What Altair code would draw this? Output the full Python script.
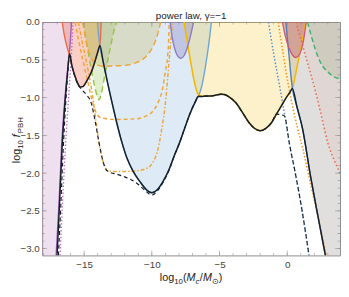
import altair as alt
import pandas as pd

XMIN, XMAX = -18.1, 3.9
YMIN, YMAX = -3.09, 0.0

# ---------------- curves (log10 Mc, log10 f) ----------------
purple_x = [-17.07, -16.87, -16.67, -16.46, -16.26, -16.1, -16.0, -15.93]
purple_y = [-3.09, -2.45, -1.66, -1.10, -0.70, -0.42, -0.2, 0.0]

magenta_x = [-16.78, -16.6, -16.4, -16.15, -15.95, -15.82]
magenta_y = [-3.09, -2.4, -1.7, -1.0, -0.45, 0.0]

red_x = [-16.62, -16.5, -16.35, -16.2, -16.08, -15.9, -15.67, -15.5, -15.3, -15.1,
         -14.9, -14.7, -14.46, -14.25, -14.1, -13.95, -13.84, -13.78, -13.74]
red_y = [0.0, -0.14, -0.27, -0.37, -0.44, -0.58, -0.72, -0.8, -0.86, -0.855,
         -0.81, -0.745, -0.66, -0.55, -0.46, -0.37, -0.3, -0.16, 0.0]

greenv_x = [-15.09, -14.8, -14.5, -14.2, -14.0, -13.89, -13.75, -13.45, -13.1, -12.8, -12.6]
greenv_y = [0.0, -0.3, -0.6, -0.87, -1.0, -1.03, -0.96, -0.68, -0.37, -0.12, 0.0]

blue_x = [-14.02, -13.95, -13.84, -13.6, -13.3, -13.0, -12.57, -12.2, -11.84, -11.4,
          -10.89, -10.4, -10.0, -9.6, -9.2, -8.72, -8.3, -8.0, -7.6, -7.2,
          -6.8, -6.55, -6.3, -6.05, -5.8, -5.6]
blue_y = [0.0, -0.15, -0.32, -0.52, -0.78, -1.02, -1.35, -1.6, -1.8, -1.97,
          -2.11, -2.22, -2.26, -2.22, -2.12, -1.95, -1.75, -1.62, -1.42, -1.22,
          -1.06, -0.98, -0.84, -0.6, -0.3, 0.0]

yellow_x = [-7.62, -7.35, -7.1, -6.85, -6.6, -6.35, -6.0, -5.72, -5.3, -4.9, -4.64,
            -4.3, -3.79, -3.3, -2.83, -2.4, -1.99, -1.6, -1.15, -0.8, -0.43, -0.07,
            0.2, 0.41, 0.65, 1.0, 1.2, 1.37]
yellow_y = [0.0, -0.3, -0.56, -0.8, -0.95, -0.985, -0.98, -0.98, -0.97, -0.955, -0.96,
            -0.99, -1.07, -1.2, -1.33, -1.41, -1.44, -1.41, -1.33, -1.22, -1.11, -1.0,
            -0.93, -0.86, -0.66, -0.35, -0.17, 0.0]

purpleu_x = [-8.65, -8.5, -8.3, -8.05, -7.85, -7.6, -7.35, -7.1, -6.92]
purpleu_y = [0.0, -0.2, -0.36, -0.46, -0.48, -0.44, -0.32, -0.15, 0.0]

orangeA_x = [-15.1, -14.8, -14.4, -14.0, -13.5, -12.57, -11.8, -11.2, -10.7, -10.3, -9.9, -9.6, -9.35]
orangeA_y = [0.0, -0.3, -0.5, -0.57, -0.585, -0.58, -0.57, -0.54, -0.5, -0.43, -0.32, -0.18, 0.0]

orangeB_x = [-15.67, -15.4, -15.1, -14.72, -14.35, -14.05, -13.7, -12.57, -11.12, -10.5,
             -9.92, -9.5, -9.2, -9.0, -8.84, -8.75, -8.72]
orangeB_y = [0.0, -0.25, -0.5, -0.8, -1.08, -1.22, -1.27, -1.29, -1.28, -1.25,
             -1.18, -1.05, -0.88, -0.65, -0.46, -0.2, 0.0]

orangeC_x = [-15.43, -15.1, -14.75, -14.4, -14.1, -13.8, -13.5, -13.29, -12.5, -11.12,
             -10.3, -9.9, -9.6, -9.32, -8.96, -8.72, -8.48]
orangeC_y = [0.0, -0.3, -0.6, -0.95, -1.35, -1.7, -1.9, -1.97, -1.98, -1.97,
             -1.93, -1.85, -1.72, -1.47, -1.01, -0.5, 0.0]

steel_x = [-0.1, 0.12, 0.38, 0.7, 1.13, 1.73, 2.3, 2.82]
steel_y = [0.0, -0.42, -0.88, -1.11, -1.41, -2.05, -2.6, -3.09]

bluedot_x = [-1.39, -1.0, -0.55, -0.19, 0.17, 0.65, 1.1, 1.61]
bluedot_y = [0.0, -0.42, -0.86, -1.22, -1.62, -2.05, -2.5, -3.09]

orangedot_x = [-0.67, -0.3, 0.05, 0.4, 0.77, 1.13, 1.73, 2.3, 2.88]
orangedot_y = [0.0, -0.42, -0.8, -1.12, -1.41, -1.66, -2.15, -2.6, -3.09]

reddot_x = [0.65, 1.37, 2.09, 2.6, 3.0, 3.45, 3.9]
reddot_y = [0.0, -0.46, -0.92, -1.3, -1.6, -1.82, -2.0]

greenr_x = [1.5, 1.8, 2.09, 2.5, 3.06, 3.5, 3.9]
greenr_y = [0.0, -0.2, -0.37, -0.55, -0.67, -0.73, -0.75]

crimson_x = [-0.35, -0.15, 0.1, 0.4, 0.65, 0.9, 1.1, 1.27, 1.4]
crimson_y = [0.0, -0.18, -0.33, -0.44, -0.47, -0.43, -0.33, -0.17, 0.0]

black_x = [-17.0, -16.83, -16.63, -16.43, -16.24, -16.08, -15.9, -15.67, -15.5, -15.3,
           -15.1, -14.9, -14.7, -14.46, -14.25, -14.1, -13.95, -13.84, -13.6, -13.3,
           -13.0, -12.57, -12.2, -11.84, -11.4, -10.89, -10.4, -10.0, -9.6, -9.2,
           -8.72, -8.3, -8.0, -7.6, -7.2, -6.8, -6.58, -6.35, -6.0, -5.72,
           -5.3, -4.9, -4.64, -4.3, -3.79, -3.3, -2.83, -2.4, -1.99, -1.6,
           -1.15, -0.8, -0.43, -0.07, 0.2, 0.38, 0.7, 1.13, 1.73, 2.3, 2.82]
black_y = [-3.09, -2.45, -1.66, -1.1, -0.7, -0.42, -0.58, -0.72, -0.8, -0.86,
           -0.855, -0.81, -0.745, -0.66, -0.55, -0.46, -0.37, -0.31, -0.52, -0.78,
           -1.02, -1.35, -1.6, -1.8, -1.97, -2.11, -2.22, -2.26, -2.22, -2.12,
           -1.95, -1.75, -1.62, -1.42, -1.22, -1.06, -0.985, -0.985, -0.98, -0.98,
           -0.97, -0.955, -0.96, -0.99, -1.07, -1.2, -1.33, -1.41, -1.44, -1.41,
           -1.33, -1.22, -1.11, -1.0, -0.93, -0.88, -1.11, -1.41, -2.05, -2.6, -3.09]

bdash_x = [-16.9, -16.73, -16.55, -16.37, -16.2, -16.08, -15.9, -15.67, -15.45, -15.2,
           -14.8, -14.5, -14.2, -13.9, -13.6, -13.3, -12.5, -12.0, -11.5, -11.0,
           -10.5, -10.0, -9.6, -9.2, -8.72, -8.3, -8.0, -7.6, -7.2, -6.8,
           -6.58, -6.35, -6.0, -5.72, -5.3, -4.9, -4.64, -4.3, -3.79, -3.3,
           -2.83, -2.4, -1.99, -1.6, -1.15, -0.8, -0.22, 0.17, 0.65, 1.1, 1.61]
bdash_y = [-3.09, -2.45, -1.7, -1.1, -0.66, -0.44, -0.59, -0.73, -0.83, -0.89,
           -0.97, -1.06, -1.3, -1.6, -1.85, -1.97, -2.02, -2.05, -2.09, -2.15,
           -2.23, -2.29, -2.24, -2.13, -1.96, -1.75, -1.62, -1.42, -1.22, -1.06,
           -0.985, -0.985, -0.98, -0.98, -0.97, -0.955, -0.96, -0.99, -1.07, -1.2,
           -1.33, -1.41, -1.44, -1.41, -1.33, -1.22, -1.24, -1.62, -2.05, -2.5, -3.09]

x_major = [-15, -10, -5, 0]
x_minor = list(range(-18, 4))
y_major = [0.0, -0.5, -1.0, -1.5, -2.0, -2.5, -3.0]
y_minor = [round(-0.1 * k, 1) for k in range(0, 31)]

TITLE = "power law, γ=−1"
FONT = "Liberation Sans"

W, H = 305, 239

# ---------------- encodings ----------------
xs = alt.Scale(domain=[XMIN, XMAX], nice=False, zero=False)
ys = alt.Scale(domain=[YMIN, YMAX], nice=False, zero=False)
X_AXIS = alt.Axis(values=x_major, format="d", ticks=False, domain=False, grid=False,
                  labelPadding=4, labelFontSize=10, labelColor="#444", labelFont=FONT,
                  title=None)
Y_AXIS = alt.Axis(values=y_major, format=".1f", ticks=False, domain=False, grid=False,
                  labelPadding=3, labelFontSize=10, labelColor="#444", labelFont=FONT,
                  title=None)
XE = alt.X("x:Q", scale=xs, axis=X_AXIS)
YE = alt.Y("y:Q", scale=ys, axis=Y_AXIS)
YA = alt.Y("y:Q", scale=ys, axis=Y_AXIS, stack=None)


def frame(xv, yv):
    return pd.DataFrame({"x": xv, "y": yv, "i": list(range(len(xv)))})


def area(xv, yv, color, op):
    df = frame(xv, yv)
    df["top"] = YMAX
    return alt.Chart(df).mark_area(
        fill=color, fillOpacity=op, clip=True, interpolate="monotone"
    ).encode(x=XE, y=YA, y2="top:Q")


def line(xv, yv, color, width=1.4, dash=None):
    kw = dict(color=color, strokeWidth=width, clip=True, interpolate="monotone")
    if dash:
        kw["strokeDash"] = dash
    return alt.Chart(frame(xv, yv)).mark_line(**kw).encode(x=XE, y=YE, order="i:Q")


def xticks(vals, size, edge):
    return alt.Chart(pd.DataFrame({"x": vals})).mark_tick(
        orient="vertical", size=size, thickness=0.8, color="#8c8c8c", clip=True
    ).encode(x=XE, y=alt.YDatum(edge, scale=ys, axis=Y_AXIS))


def yticks(vals, size, edge):
    return alt.Chart(pd.DataFrame({"y": vals})).mark_tick(
        orient="horizontal", size=size, thickness=0.8, color="#8c8c8c", clip=True
    ).encode(y=YE, x=alt.XDatum(edge, scale=xs, axis=X_AXIS))


def txt(s, px, py, size, italic=False, dy=0, angle=0, align="left"):
    kw = dict(align=align, baseline="alphabetic", fontSize=size, font=FONT,
              color="#222", dy=dy)
    if italic:
        kw["fontStyle"] = "italic"
    if angle:
        kw["angle"] = angle
    return alt.Chart(pd.DataFrame({"t": [s]})).mark_text(**kw).encode(
        text="t:N", x=alt.value(px), y=alt.value(py))


purple_fill_x = [XMIN] + purple_x
purple_fill_y = [YMIN] + purple_y
gray_fill_x = steel_x + [XMAX]
gray_fill_y = steel_y + [YMIN]

S = W / 2 - 32   # start of x title
TB = H + 26      # x title baseline
YB = H / 2 + 25  # y title start (bottom)
YX = -23         # y title baseline x

layers = [
    area(purple_fill_x, purple_fill_y, "#b070b8", 0.22),
    area(red_x, red_y, "#ee6040", 0.3),
    area(greenv_x, greenv_y, "#8cc040", 0.25),
    area(blue_x, blue_y, "#6aa6d4", 0.22),
    area(orangeA_x, orangeA_y, "#c6ab3d", 0.25),
    area(yellow_x, yellow_y, "#f5b800", 0.2),
    area(purpleu_x, purpleu_y, "#8a7dc0", 0.35),
    area(gray_fill_x, gray_fill_y, "#908c88", 0.28),
    area(reddot_x, reddot_y, "#ee6040", 0.06),
    area(greenr_x, greenr_y, "#8a9a70", 0.2),
    area(crimson_x, crimson_y, "#b93c4e", 0.33),
    # colored lines
    line(purple_x, purple_y, "#9b5fb5"),
    line(magenta_x, magenta_y, "#c86dc8", 1.4, [1.5, 2]),
    line(red_x, red_y, "#ef6a4a"),
    line(greenv_x, greenv_y, "#98c548", 1.5, [6, 4]),
    line(blue_x, blue_y, "#6ba7d5"),
    line(orangeA_x, orangeA_y, "#eea53a", 1.5, [6, 3.5]),
    line(orangeB_x, orangeB_y, "#eea53a", 1.5, [4, 3]),
    line(orangeC_x, orangeC_y, "#eea53a", 1.5, [4, 2, 1.5, 2]),
    line(yellow_x, yellow_y, "#f5b800", 1.6),
    line(purpleu_x, purpleu_y, "#8c7cc0"),
    line(steel_x, steel_y, "#4f7db5"),
    line(bluedot_x, bluedot_y, "#5a8fcb", 1.5, [1.5, 2]),
    line(orangedot_x, orangedot_y, "#f6921e", 1.6, [1.5, 2]),
    line(reddot_x, reddot_y, "#ec6a47", 1.6, [1.5, 2.5]),
    line(greenr_x, greenr_y, "#3db56f", 1.5, [5, 3]),
    line(crimson_x, crimson_y, "#cc5a7e"),
    # envelopes
    line(black_x, black_y, "#16202c", 1.5),
    line(bdash_x, bdash_y, "#16202c", 1.2, [4, 3]),
    # frame ticks (inside)
    xticks(x_major, 10, YMIN), xticks(x_minor, 5, YMIN),
    xticks(x_major, 10, YMAX), xticks(x_minor, 5, YMAX),
    yticks(y_major, 10, XMIN), yticks(y_minor, 5, XMIN),
    yticks(y_major, 10, XMAX), yticks(y_minor, 5, XMAX),
    # title and axis titles
    txt(TITLE, W / 2, -3, 10, align="center"),
    txt("log", S, TB, 11),
    txt("10", S + 14.7, TB, 8, dy=3),
    txt("(", S + 23.6, TB, 11),
    txt("M", S + 27.3, TB, 11, italic=True),
    txt("c", S + 36.5, TB, 8, italic=True, dy=3),
    txt("/", S + 40.9, TB, 11),
    txt("M", S + 44.1, TB, 11, italic=True),
    txt("⊙", S + 53.5, TB, 8, dy=3),
    txt(")", S + 60.3, TB, 11),
    txt("log", YX, YB, 11, angle=270),
    txt("10", YX, YB - 14.7, 8, dy=3, angle=270),
    txt("f", YX, YB - 26.6, 11, italic=True, angle=270),
    txt("PBH", YX, YB - 30.7, 8, dy=3, angle=270),
]

chart = alt.layer(*layers).properties(
    width=W, height=H,
    autosize=alt.AutoSizeParams(type="none"),
    padding={"left": 35, "top": 11, "right": 1, "bottom": 30},
    background="white",
).configure_view(stroke="#8c8c8c", strokeWidth=1)

chart.save("out.html", embed_options={"renderer": "svg", "actions": False})
